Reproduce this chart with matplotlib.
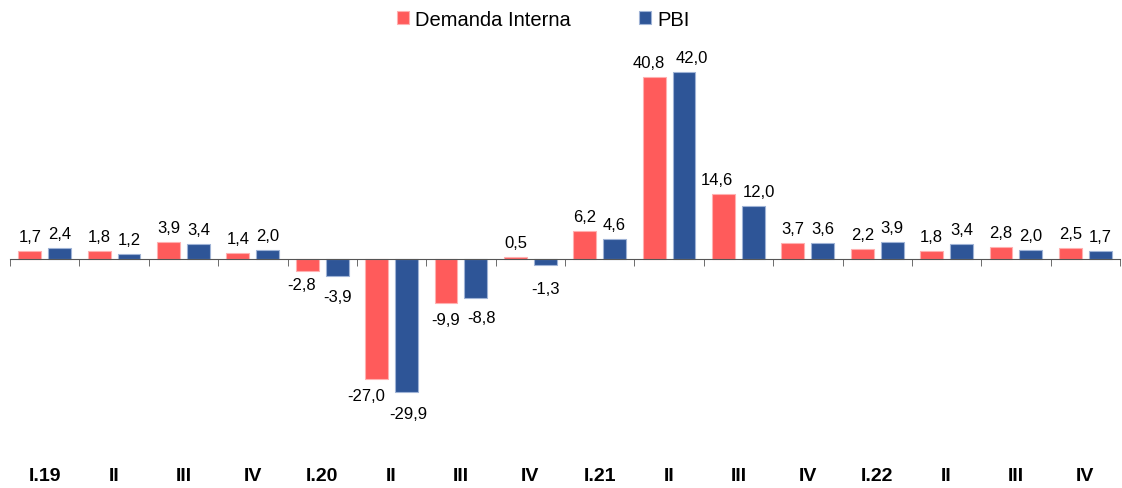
import matplotlib.pyplot as plt
import numpy as np

plt.rcParams['font.family'] = ['Liberation Sans', 'DejaVu Sans']

categorias = ["I.19", "II", "III", "IV", "I.20", "II", "III", "IV",
              "I.21", "II", "III", "IV", "I.22", "II", "III", "IV"]
demanda_interna = [1.7, 1.8, 3.9, 1.4, -2.8, -27.0, -9.9, 0.5,
                   6.2, 40.8, 14.6, 3.7, 2.2, 1.8, 2.8, 2.5]
pbi = [2.4, 1.2, 3.4, 2.0, -3.9, -29.9, -8.8, -1.3,
       4.6, 42.0, 12.0, 3.6, 3.9, 3.4, 2.0, 1.7]

col_rojo = "#FF5B5B"
col_azul = "#2E5597"

# ajustes manuales de etiquetas (serie, indice) -> (dx px, separacion px)
ajuste = {
    (0, 4): (-5.5, 6), (0, 5): (-10, 9), (0, 6): (0, 9),
    (0, 9): (-5, 10), (0, 10): (-7, 10),
    (1, 4): (0, 13), (1, 5): (1.5, 14), (1, 6): (5.5, 12), (1, 7): (0, 16),
    (1, 9): (7.5, 10), (1, 10): (5.5, 10),
}
px = 72 / 100  # puntos por pixel

fig = plt.figure(figsize=(11.22, 4.89), dpi=100)
ax = fig.add_axes([10 / 1122, 0.1043, 1110 / 1122, 0.819])

x = np.arange(len(categorias))
w = 0.33
off = 0.215

b1 = ax.bar(x - off, demanda_interna, w, color=col_rojo, edgecolor="#FFB0B0",
            linewidth=0.8, label="Demanda Interna", zorder=2)
b2 = ax.bar(x + off, pbi, w, color=col_azul, edgecolor="#9FB3D6",
            linewidth=0.8, label="PBI", zorder=2)


def fmt(v):
    return ("%.1f" % v).replace(".", ",")


for s, (bars, vals) in enumerate([(b1, demanda_interna), (b2, pbi)]):
    for i, (b, v) in enumerate(zip(bars, vals)):
        cx = b.get_x() + b.get_width() / 2
        if v >= 0:
            dx, gap = ajuste.get((s, i), (0, 10))
            ax.annotate(fmt(v), (cx, v), xytext=(dx * px, gap * px),
                        textcoords="offset points",
                        ha="center", va="baseline", fontsize=12)
        else:
            dx, gap = ajuste.get((s, i), (0, 11))
            ax.annotate(fmt(v), (cx, v), xytext=(dx * px, -gap * px),
                        textcoords="offset points",
                        ha="center", va="top", fontsize=12)

ax.set_xlim(-0.5, len(categorias) - 0.5)
ax.set_ylim(-40, 50)

for sp in ["top", "right", "left"]:
    ax.spines[sp].set_visible(False)
ax.spines["bottom"].set_position(("data", 0))
ax.spines["bottom"].set_color("#555555")
ax.set_yticks([])
ax.set_xticks([])
ax.set_xticks(np.arange(-0.5, len(categorias)), minor=True)
ax.tick_params(axis="x", which="minor", length=5, direction="out", color="#555555")
ax.set_xticklabels([], minor=True)

for i, c in enumerate(categorias):
    ax.text(i, -0.095, c, transform=ax.get_xaxis_transform(), ha="center",
            va="center", fontsize=14, fontweight="bold")

fig.legend(loc="center", bbox_to_anchor=(543 / 1122, 1 - 20 / 489), ncol=2,
           frameon=False, fontsize=14.5, handlelength=0.6, handleheight=0.6,
           handletextpad=0.3, columnspacing=3.4)

fig.savefig("out.png", dpi=100)
